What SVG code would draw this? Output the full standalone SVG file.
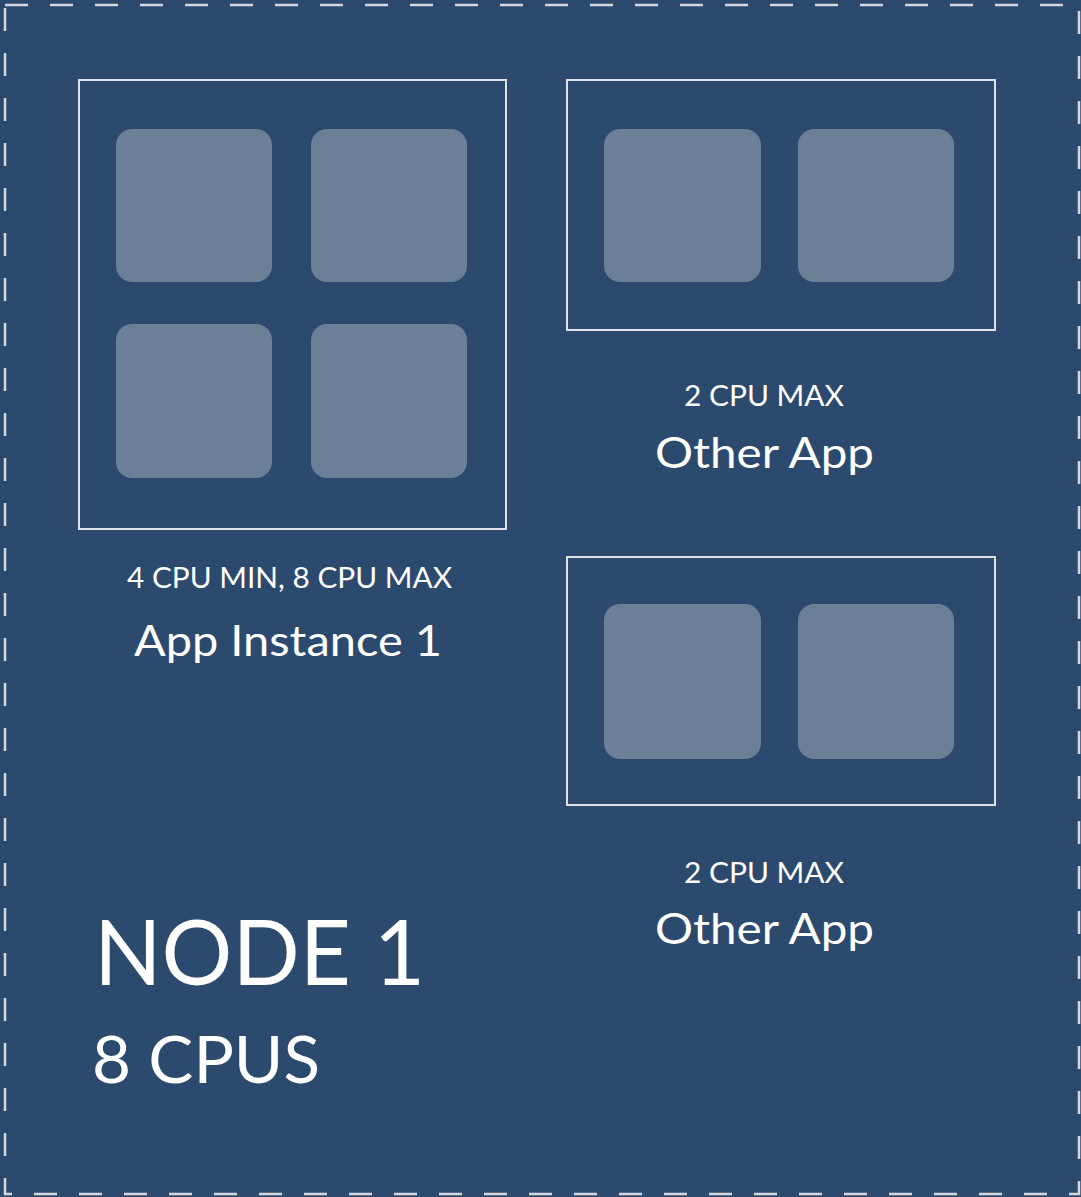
<svg xmlns="http://www.w3.org/2000/svg" width="1081" height="1197" viewBox="0 0 1081 1197">
  <style>
    .frame { fill: none; stroke: #dfe3e8; stroke-width: 2; }
    .cpu { fill: #6b8097; }
    .t { font-family: Lato, "Open Sans", sans-serif; fill: #ffffff; }
    .small { font-size: 28px; text-anchor: middle; }
    .label { font-size: 42px; text-anchor: middle; }
  </style>
  <rect x="0" y="0" width="1081" height="1197" fill="#2c4a6e"/>
  <g id="node1">
    <rect x="5" y="5" width="1074" height="1189" fill="none" stroke="#d4d8de" stroke-width="2.5" stroke-dasharray="23 22"/>
    <text class="t" x="94" y="985" font-size="91" textLength="331" lengthAdjust="spacingAndGlyphs">NODE 1</text>
    <text class="t" x="92" y="1083" font-size="66" textLength="228" lengthAdjust="spacingAndGlyphs">8 CPUS</text>
  </g>
  <g id="app-instance-1">
    <rect class="frame" x="79" y="80" width="427" height="449"/>
    <rect class="cpu" x="116" y="129" width="156" height="153" rx="16"/>
    <rect class="cpu" x="311" y="129" width="156" height="153" rx="16"/>
    <rect class="cpu" x="116" y="324" width="156" height="154" rx="16"/>
    <rect class="cpu" x="311" y="324" width="156" height="154" rx="16"/>
    <text class="t small" x="289.5" y="588" textLength="325" lengthAdjust="spacingAndGlyphs">4 CPU MIN, 8 CPU MAX</text>
    <text class="t label" x="288" y="656" font-size="44" textLength="308" lengthAdjust="spacingAndGlyphs">App Instance 1</text>
  </g>
  <g id="other-app-1">
    <rect class="frame" x="567" y="80" width="428" height="250"/>
    <rect class="cpu" x="604" y="129" width="157" height="153" rx="16"/>
    <rect class="cpu" x="798" y="129" width="156" height="153" rx="16"/>
    <text class="t small" x="764" y="406" textLength="160" lengthAdjust="spacingAndGlyphs">2 CPU MAX</text>
    <text class="t label" x="764.5" y="468" textLength="219" lengthAdjust="spacingAndGlyphs">Other App</text>
  </g>
  <g id="other-app-2">
    <rect class="frame" x="567" y="557" width="428" height="248"/>
    <rect class="cpu" x="604" y="604" width="157" height="155" rx="16"/>
    <rect class="cpu" x="798" y="604" width="156" height="155" rx="16"/>
    <text class="t small" x="764" y="883" textLength="160" lengthAdjust="spacingAndGlyphs">2 CPU MAX</text>
    <text class="t label" x="764.5" y="944" textLength="219" lengthAdjust="spacingAndGlyphs">Other App</text>
  </g>
  <g id="connectors"></g>
</svg>
